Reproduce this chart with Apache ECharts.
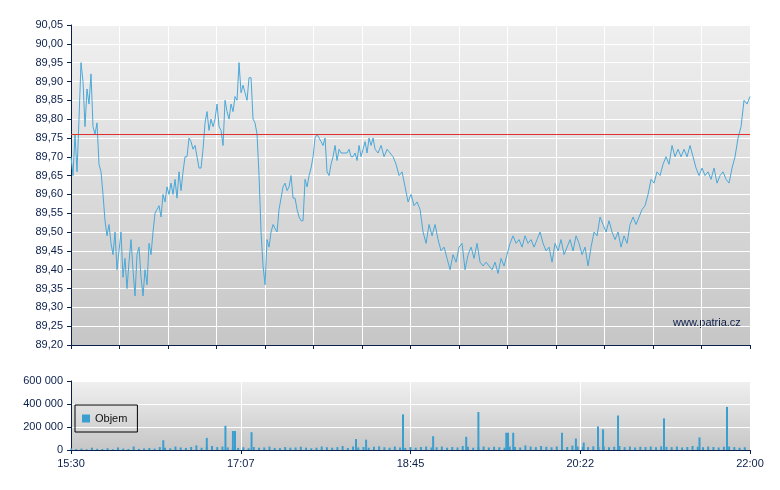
<!DOCTYPE html><html><head><meta charset="utf-8">
<script src="https://cdn.jsdelivr.net/npm/echarts@6/dist/echarts.min.js"></script>
<style>html,body{margin:0;padding:0;background:#fff}#c{width:780px;height:490px}</style></head><body><div id="c"></div>
<script>
// price, segment A: every ~1.15 min from 15:30; segment B: every ~1.72 min afterwards
const priceA=[89.70,89.65,89.76,89.66,89.80,89.95,89.90,89.78,89.88,89.84,89.92,89.78,89.76,89.79,89.68,89.66,89.60,89.53,89.49,89.52,89.47,89.44,89.50,89.40,89.45,89.50,89.38,89.43,89.35,89.42,89.48,89.40,89.33,89.44,89.46,89.38,89.33,89.40,89.36,89.47,89.44,89.50,89.55,89.56,89.57,89.54,89.60,89.58,89.62,89.60,89.63,89.60,89.64,89.59,89.66,89.61,89.66,89.70,89.70,89.75,89.74,89.72,89.73,89.70,89.67,89.67,89.72,89.79,89.82,89.77,89.80,89.78,89.80,89.84,89.78,89.77,89.73,89.85,89.82,89.80,89.84,89.82,89.86,89.85,89.95,89.87,89.89,89.87,89.85,89.91,89.91,89.80,89.79,89.76,89.65,89.50,89.41,89.36,89.48,89.46,89.50,89.52,89.51,89.50,89.56,89.59,89.62,89.63,89.61,89.62,89.65,89.59,89.59,89.56,89.54,89.53,89.53,89.64,89.62,89.65,89.67,89.70,89.75,89.76,89.75,89.74,89.73,89.75,89.66,89.65,89.68,89.70,89.73,89.69,89.72,89.71,89.71,89.71,89.71,89.72,89.70,89.70,89.71,89.69,89.73,89.70,89.72,89.74,89.71,89.75,89.73,89.75];
const priceB=[89.72,89.71,89.73,89.70,89.72,89.71,89.70,89.68,89.65,89.66,89.62,89.58,89.60,89.57,89.58,89.56,89.50,89.47,89.52,89.49,89.52,89.48,89.45,89.46,89.43,89.40,89.44,89.42,89.46,89.47,89.40,89.44,89.46,89.43,89.47,89.42,89.41,89.42,89.41,89.40,89.42,89.39,89.43,89.41,89.44,89.47,89.49,89.47,89.48,89.46,89.49,89.47,89.48,89.46,89.48,89.50,89.47,89.45,89.46,89.42,89.47,89.45,89.48,89.44,89.46,89.48,89.45,89.49,89.47,89.44,89.46,89.41,89.46,89.50,89.49,89.54,89.52,89.50,89.53,89.50,89.48,89.50,89.46,89.49,89.47,89.52,89.54,89.52,89.54,89.56,89.57,89.60,89.64,89.63,89.66,89.65,89.68,89.70,89.68,89.73,89.70,89.72,89.70,89.72,89.70,89.73,89.70,89.67,89.65,89.67,89.65,89.66,89.64,89.67,89.63,89.65,89.66,89.64,89.63,89.67,89.70,89.75,89.78,89.85,89.84,89.86];
const refPrice=89.76;
// volume: base every 3 min, plus spikes [minute, volume]
const volBase=[15000,8000,12000,6000,20000,10000,9000,15000,7000,22000,12000,9000,30000,10000,14000,18000,12000,25000,20000,15000,30000,22000,18000,26000,40000,20000,28000,35000,25000,30000,22000,20000,18000,24000,15000,26000,20000,22000,30000,18000,16000,25000,20000,22000,28000,20000,15000,20000,30000,24000,20000,25000,35000,18000,30000,22000,26000,20000,28000,32000,24000,20000,30000,22000,18000,25000,20000,26000,30000,22000,24000,30000,20000,26000,22000,35000,28000,20000,25000,30000,22000,28000,24000,20000,30000,26000,22000,40000,30000,25000,35000,28000,24000,30000,22000,26000,38000,30000,28000,25000,32000,26000,30000,24000,28000,35000,25000,30000,22000,28000,26000,30000,24000,32000,28000,25000,30000,22000,26000,35000,28000,24000,30000,26000,22000,28000,30000,25000,20000,24000];
const volSpikes=[[53,85000],[78,105000],[88.7,210000],[93,165000],[94.2,165000],[103.7,155000],[163.7,95000],[169.5,90000],[190.7,310000],[208,120000],[227,115000],[234,330000],[250,150000],[251,150000],[254,150000],[282,150000],[290,100000],[294.5,65000],[302.7,205000],[305.6,180000],[314.2,300000],[340.6,275000],[361,110000],[376.8,375000]];
const start=15*60+30, stepA=1.149, stepB=1.723;

const price=[];
priceA.forEach((v,i)=>price.push([i*stepA,v]));
const tB=priceA.length*stepA;
priceB.forEach((v,i)=>price.push([Math.min(390,tB+i*stepB),v]));
const vol=volBase.map((v,i)=>[i*3,v]).concat(volSpikes);
const fmtT=m=>{const t=start+Math.floor(m);return Math.floor(t/60)+':'+String(t%60).padStart(2,'0');};
const navy='#0b1f4b';
const bg={type:'linear',x:0,y:0,x2:0,y2:1,colorStops:[{offset:0,color:'#f0f0f0'},{offset:1,color:'#c6c6c6'}]};
const font='Liberation Sans';
const ch=echarts.init(document.getElementById('c'));
ch.setOption({
 animation:false,textStyle:{fontFamily:font},
 grid:[{left:71,right:30,top:25,height:320,show:true,backgroundColor:bg,borderWidth:0},
       {left:71,right:30,top:381,height:69,show:true,backgroundColor:bg,borderWidth:0}],
 legend:{data:['Objem'],left:75,top:405,orient:'vertical',borderColor:'#000',borderWidth:1,padding:[8,10,8,7],itemWidth:8,itemHeight:8,itemGap:4,textStyle:{fontSize:11,color:'#111',fontFamily:font},icon:'rect'},
 xAxis:[{type:'value',gridIndex:0,min:0,max:390,interval:390/14,axisLabel:{show:false},axisLine:{lineStyle:{color:navy}},axisTick:{length:4,lineStyle:{color:navy}},splitLine:{lineStyle:{color:'#fff',width:1}}},
        {type:'value',gridIndex:1,min:0,max:390,interval:97.5,axisLabel:{formatter:fmtT,fontSize:11,color:navy,showMinLabel:true,showMaxLabel:true},axisLine:{lineStyle:{color:navy}},axisTick:{length:4,lineStyle:{color:navy}},splitLine:{lineStyle:{color:'#fff',width:1}}}],
 yAxis:[{type:'value',gridIndex:0,min:89.2,max:90.05,interval:0.05,axisLabel:{formatter:v=>v.toFixed(2).replace('.',','),fontSize:11,color:navy},axisLine:{show:true,lineStyle:{color:navy}},axisTick:{show:true,length:4,lineStyle:{color:navy}},splitLine:{lineStyle:{color:'#fff',width:1}}},
        {type:'value',gridIndex:1,min:0,max:600000,interval:200000,axisLabel:{formatter:v=>v===0?'0':String(v).replace(/\B(?=(\d{3})+(?!\d))/g,' '),fontSize:11,color:navy},axisLine:{show:true,lineStyle:{color:navy}},axisTick:{show:true,length:4,lineStyle:{color:navy}},splitLine:{lineStyle:{color:'#fff',width:1}}}],
 series:[{type:'line',xAxisIndex:0,yAxisIndex:0,data:price,showSymbol:false,lineStyle:{color:'#4aa8d8',width:1},
   markLine:{silent:true,symbol:'none',label:{show:false},lineStyle:{color:'#e03030',width:1,type:'solid'},data:[{yAxis:refPrice}]}},
  {type:'bar',name:'Objem',xAxisIndex:1,yAxisIndex:1,data:vol,barWidth:2,itemStyle:{color:'#3a9fd0'}}],
 graphic:[{type:'text',left:673,top:317,style:{text:'www.patria.cz',fontSize:11,fill:navy,fontFamily:font}}]
});
</script></body></html>
